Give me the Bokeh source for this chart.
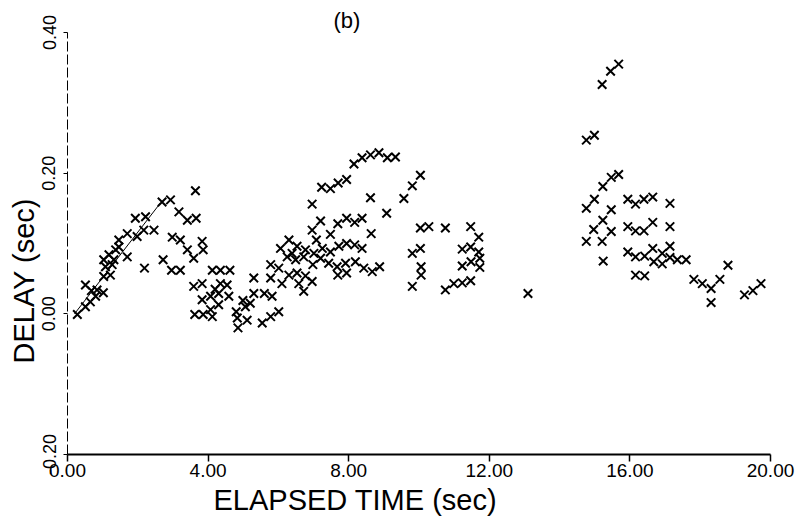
from bokeh.plotting import figure
from bokeh.models import Range1d, FixedTicker, Title, ColumnDataSource
from bokeh.embed import file_html
from bokeh.resources import INLINE

# ---- data ----
time_s = [
    0.28, 0.51, 0.65, 0.51, 0.80, 0.84, 1.02, 1.03, 1.22, 1.27, 1.03, 1.18, 1.37, 1.46, 1.32, 1.70,
    1.46, 1.70, 1.93, 1.98, 2.22, 2.17, 2.46, 2.19, 2.69, 2.93, 2.72, 2.98, 3.17, 3.21, 2.96, 3.21,
    3.41, 3.66, 3.64, 3.41, 3.59, 3.83, 3.86, 3.59, 3.83, 3.62, 3.86, 3.83, 4.07, 4.07, 4.12, 4.35,
    4.62, 4.35, 4.54, 4.30, 4.59, 4.30, 4.12, 4.83, 4.85, 5.06, 5.11, 5.30, 5.30, 5.54, 1.08, 0.68,
    4.99, 5.20, 4.80, 4.20,
    5.60, 5.82, 6.01, 5.78, 5.78, 5.78, 6.01, 6.06, 6.30, 6.53, 6.77, 7.01, 7.25, 7.48, 7.72, 7.94,
    8.17, 8.38, 6.25, 6.49, 6.72, 7.20, 7.43, 7.67, 7.91, 8.19, 8.43, 8.67, 8.88, 6.30, 6.53, 6.77,
    6.96, 6.72, 7.69, 7.94, 6.10, 6.39, 6.58, 6.98, 7.08,
    6.96, 7.20, 7.48, 7.69, 7.94, 8.17, 8.38, 8.64, 6.96, 7.23, 7.48, 7.70, 7.94, 8.15, 8.38, 8.62,
    8.86, 9.10, 9.33, 8.62, 9.08, 9.57, 9.81, 10.04,
    10.04, 10.28, 10.75, 11.47, 11.70, 9.81, 10.04, 10.06, 10.06, 9.81, 11.23, 11.47, 11.70, 11.73,
    11.23, 11.48, 11.73, 10.75, 10.99, 11.23, 11.47, 13.10,
    15.21, 15.45, 15.68, 14.76, 14.99, 15.68, 15.47, 15.23, 14.99, 14.76, 15.47, 15.23, 14.97, 15.47,
    15.21, 14.76, 15.24, 15.94, 16.16, 16.40, 16.65, 17.14, 15.94, 16.16, 16.40, 16.65, 17.14, 15.94,
    16.16, 16.42, 16.65, 16.68, 16.92, 16.92, 17.14, 17.14, 17.35, 17.60, 16.16, 16.42, 17.82, 18.06,
    18.31, 18.56, 18.31, 18.79, 19.26, 19.50, 19.73,
]
delay_s = [
    -0.001, 0.010, 0.017, 0.041, 0.025, 0.034, 0.030, 0.053, 0.055, 0.070, 0.077, 0.084, 0.091, 0.095, 0.077, 0.081,
    0.105, 0.114, 0.136, 0.110, 0.138, 0.119, 0.119, 0.065, 0.159, 0.162, 0.077, 0.109, 0.145, 0.105, 0.062, 0.062,
    0.133, 0.136, 0.175, 0.091, 0.079, 0.103, 0.091, 0.039, 0.043, -0.001, -0.001, 0.020, 0.006, 0.025, 0.062, 0.062,
    0.062, 0.043, 0.041, 0.029, 0.025, 0.013, -0.004, -0.006, -0.020, 0.010, -0.009, 0.051, 0.029, -0.013, 0.067, 0.033,
    0.019, 0.015, 0.003, 0.035,
    0.029, 0.025, 0.003, -0.004, 0.051, 0.070, 0.065, 0.093, 0.105, 0.096, 0.091, 0.086, 0.093, 0.088, 0.096, 0.100,
    0.098, 0.093, 0.081, 0.077, 0.081, 0.079, 0.072, 0.067, 0.072, 0.074, 0.065, 0.060, 0.067, 0.055, 0.058, 0.054,
    0.046, 0.032, 0.055, 0.058, 0.043, 0.086, 0.043, 0.070, 0.105,
    0.119, 0.132, 0.113, 0.128, 0.136, 0.130, 0.136, 0.114, 0.156, 0.180, 0.178, 0.186, 0.191, 0.213, 0.222, 0.226,
    0.229, 0.222, 0.223, 0.165, 0.143, 0.164, 0.182, 0.197,
    0.122, 0.124, 0.122, 0.124, 0.109, 0.086, 0.093, 0.067, 0.055, 0.039, 0.092, 0.095, 0.088, 0.079,
    0.068, 0.074, 0.066, 0.034, 0.043, 0.044, 0.047, 0.029,
    0.326, 0.345, 0.355, 0.247, 0.254, 0.198, 0.194, 0.181, 0.163, 0.150, 0.148, 0.133, 0.120, 0.117,
    0.103, 0.103, 0.075, 0.163, 0.156, 0.163, 0.166, 0.157, 0.124, 0.118, 0.118, 0.130, 0.124, 0.088,
    0.081, 0.082, 0.093, 0.074, 0.086, 0.071, 0.096, 0.080, 0.077, 0.077, 0.055, 0.054, 0.049, 0.043,
    0.036, 0.049, 0.016, 0.069, 0.027, 0.033, 0.043,
]
fit_time = [0.2, 2.65]
fit_delay = [0.0, 0.158]

x_ticks = [0, 4, 8, 12, 16, 20]
x_tick_labels = ["0.00", "4.00", "8.00", "12.00", "16.00", "20.00"]
y_ticks = [-0.2, 0.0, 0.2, 0.4]
y_tick_labels = ["-0.20", "0.00", "0.20", "0.40"]

title_text = "(b)"
x_title = "ELAPSED TIME (sec)"
y_title = "DELAY (sec)"

FONT = "Liberation Sans"

p = figure(width=810, height=525, output_backend="svg", toolbar_location=None,
           x_range=Range1d(0, 20), y_range=Range1d(-0.2, 0.4),
           min_border_left=67, min_border_right=40, min_border_top=32, min_border_bottom=71)
p.outline_line_color = None
p.xgrid.visible = False
p.ygrid.visible = False
p.background_fill_color = "white"
p.border_fill_color = "white"

# title "(b)"
p.title.text = title_text
p.title.align = "left"
p.title.offset = 266
p.title.text_font = FONT
p.title.text_font_size = "22px"
p.title.text_font_style = "normal"
p.title.text_color = "black"
p.title.standoff = 0

src = ColumnDataSource(dict(t=time_s, d=delay_s))
p.scatter("t", "d", source=src, marker="x", size=12, line_width=2, line_color="black")
p.line(fit_time, fit_delay, line_color="black", line_width=1)

xa = p.xaxis[0]
xa.ticker = FixedTicker(ticks=x_ticks)
xa.major_label_overrides = {t: s for t, s in zip(x_ticks, x_tick_labels)}
xa.axis_line_width = 2
xa.axis_line_color = "black"
xa.major_tick_out = 7
xa.major_tick_in = 0
xa.major_tick_line_width = 1.5
xa.minor_tick_line_color = None
xa.major_label_text_font = FONT
xa.major_label_text_font_size = "19px"
xa.major_label_text_color = "black"
xa.major_label_standoff = 2

ya = p.yaxis[0]
ya.ticker = FixedTicker(ticks=y_ticks)
ya.major_label_overrides = {t: s for t, s in zip(y_ticks, y_tick_labels)}
ya.axis_line_width = 1
ya.axis_line_color = "black"
ya.axis_line_dash = "10 3"
ya.major_tick_out = 4
ya.major_tick_in = 0
ya.minor_tick_line_color = None
ya.major_label_orientation = "vertical"
ya.major_label_text_font = FONT
ya.major_label_text_font_size = "18px"
ya.major_label_text_color = "black"
ya.major_label_standoff = 8

p.add_layout(Title(text=x_title, align="left", offset=146, text_font=FONT,
                   text_font_size="29px", text_font_style="normal", text_color="black",
                   standoff=4), "below")
p.add_layout(Title(text=y_title, align="left", offset=91, text_font=FONT,
                   text_font_size="29px", text_font_style="normal", text_color="black",
                   standoff=0), "left")

open("out.html", "w").write(file_html(p, INLINE))
